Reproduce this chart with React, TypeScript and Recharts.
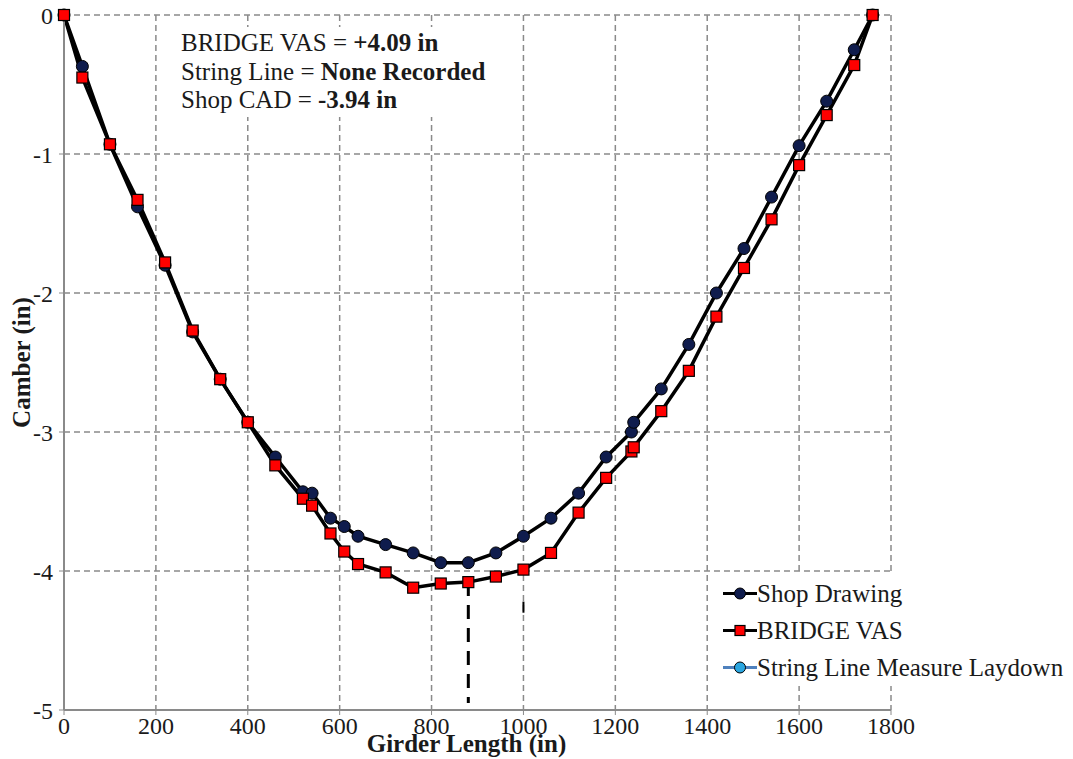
import { LineChart, Line, XAxis, YAxis, CartesianGrid, ReferenceLine, Label } from 'recharts';

// girder stations (in)
const girderX = [
  0, 40, 100, 160, 220, 280, 340, 400, 460, 520, 540, 580, 610, 640, 700, 760, 820,
  880, 940, 1000, 1060, 1120, 1180, 1235, 1240, 1300, 1360, 1420, 1480, 1540, 1600,
  1660, 1720, 1760,
];
const shopDrawing = [
  0, -0.37, -0.93, -1.38, -1.8, -2.28, -2.62, -2.93, -3.18, -3.43, -3.44, -3.62, -3.68,
  -3.75, -3.81, -3.87, -3.94, -3.94, -3.87, -3.75, -3.62, -3.44, -3.18, -3.0, -2.93,
  -2.69, -2.37, -2.0, -1.68, -1.31, -0.94, -0.62, -0.25, 0,
];
const bridgeVas = [
  0, -0.45, -0.93, -1.33, -1.78, -2.27, -2.62, -2.93, -3.24, -3.48, -3.53, -3.73, -3.86,
  -3.95, -4.01, -4.12, -4.09, -4.08, -4.04, -3.99, -3.87, -3.58, -3.33, -3.14, -3.11,
  -2.85, -2.56, -2.17, -1.82, -1.47, -1.08, -0.72, -0.36, 0,
];
const xTicks = [0, 200, 400, 600, 800, 1000, 1200, 1400, 1600, 1800];
const yTicks = [-5, -4, -3, -2, -1, 0];

// max camber marker (dashed drop line) and the stray tick under 1000
const vasMaxStation = 880;
const vasMaxCamber = -4.08;
const dropLineEnd = -4.95;
const strayMark = { x: 1000, y1: -4.22, y2: -4.3 };

const notes = [
  { label: 'BRIDGE VAS = ', value: '+4.09 in' },
  { label: 'String Line = ', value: 'None Recorded' },
  { label: 'Shop CAD = ', value: '-3.94 in' },
];

const legendItems = [
  { name: 'Shop Drawing', line: '#000', marker: 'circle', fill: '#0f1c4d' },
  { name: 'BRIDGE VAS', line: '#000', marker: 'square', fill: '#ff0000' },
  { name: 'String Line Measure Laydown', line: '#4f81bd', marker: 'circle', fill: '#2ba6e0' },
];

const chartData = girderX.map((x, i) => ({ x, shop: shopDrawing[i], vas: bridgeVas[i] }));

const FONT = '"Liberation Serif", "Times New Roman", serif';
const GRID = '#8a8a8a';

const SquareDot = (props: any) => {
  const { cx, cy, index } = props;
  if (cx == null || cy == null) return null;
  return (
    <rect key={`sq-${index}`} x={cx - 5.5} y={cy - 5.5} width={11} height={11}
      fill="#ff0000" stroke="#000" strokeWidth={1.2} />
  );
};

export default function App() {
  return (
    <div style={{ position: 'absolute', left: 0, top: 0, width: 1073, height: 759, background: '#fff', fontFamily: FONT }}>
      <LineChart width={1073} height={759} data={chartData}
        margin={{ top: 15, right: 182, left: 0, bottom: 0 }}>
        <CartesianGrid stroke={GRID} strokeWidth={1.5} strokeDasharray="6 4" />
        <XAxis dataKey="x" type="number" domain={[0, 1800]} ticks={xTicks} height={49}
          tick={{ fontSize: 24, fill: '#1a1a1a', fontFamily: FONT }} tickSize={5} tickMargin={2}
          axisLine={{ stroke: GRID, strokeWidth: 2 }} tickLine={{ stroke: GRID }}>
          <Label content={(p: any) => {
            const vb = p.viewBox;
            return (
              <text x={vb.x + vb.width / 2 - 11} y={vb.y + 42} textAnchor="middle"
                fontSize={25} fontWeight="bold" fontFamily={FONT} fill="#1a1a1a">Girder Length (in)</text>
            );
          }} />
        </XAxis>
        <YAxis type="number" domain={[-5, 0]} ticks={yTicks} width={64}
          tick={{ fontSize: 24, fill: '#1a1a1a', fontFamily: FONT }} tickSize={5} tickMargin={6}
          axisLine={{ stroke: GRID, strokeWidth: 2 }} tickLine={{ stroke: GRID }}>
          <Label content={(p: any) => {
            const vb = p.viewBox;
            const cx = vb.x + 21;
            const cy = vb.y + vb.height / 2;
            return (
              <text x={cx} y={cy} transform={`rotate(-90, ${cx}, ${cy})`} textAnchor="middle"
                dominantBaseline="central" fontSize={25} fontWeight="bold" fontFamily={FONT} fill="#1a1a1a">Camber (in)</text>
            );
          }} />
        </YAxis>
        <ReferenceLine segment={[{ x: vasMaxStation, y: vasMaxCamber }, { x: vasMaxStation, y: dropLineEnd }]}
          stroke="#000" strokeWidth={3} strokeDasharray="14 9" />
        <ReferenceLine segment={[{ x: strayMark.x, y: strayMark.y1 }, { x: strayMark.x, y: strayMark.y2 }]}
          stroke="#000" strokeWidth={2} />
        <Line type="linear" dataKey="shop" stroke="#000" strokeWidth={3.5} isAnimationActive={false}
          dot={{ r: 6, fill: '#0f1c4d', stroke: '#000', strokeWidth: 1 }} />
        <Line type="linear" dataKey="vas" stroke="#000" strokeWidth={3.5} isAnimationActive={false}
          dot={SquareDot} />
      </LineChart>

      <div style={{ position: 'absolute', left: 175, top: 27, background: '#fff', padding: '2px 6px',
        fontSize: 25, lineHeight: '28.5px', color: '#1a1a1a', whiteSpace: 'nowrap' }}>
        {notes.map((n) => (
          <div key={n.label}>{n.label}<b>{n.value}</b></div>
        ))}
      </div>

      <div style={{ position: 'absolute', left: 715, top: 575, width: 355, background: '#fff',
        fontSize: 25, color: '#1a1a1a' }}>
        {legendItems.map((it) => (
          <div key={it.name} style={{ display: 'flex', alignItems: 'center', height: 37, whiteSpace: 'nowrap' }}>
            <svg width={42} height={37}>
              <line x1={8} y1={18.5} x2={42} y2={18.5} stroke={it.line} strokeWidth={3} />
              {it.marker === 'circle'
                ? <circle cx={25} cy={18.5} r={5.5} fill={it.fill} stroke="#000" strokeWidth={1} />
                : <rect x={20} y={13.5} width={10} height={10} fill={it.fill} stroke="#000" strokeWidth={1.2} />}
            </svg>
            <span>{it.name}</span>
          </div>
        ))}
      </div>
    </div>
  );
}
